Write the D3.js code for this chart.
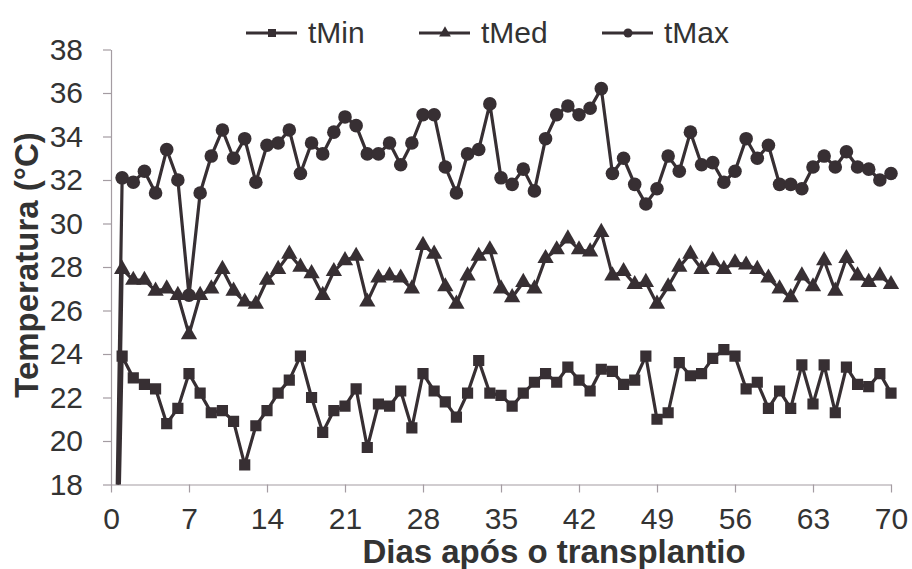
<!DOCTYPE html>
<html>
<head>
  <meta charset="utf8">
  <script src="https://d3js.org/d3.v7.min.js"></script>
  <style>
    body { margin: 0; background: #fff; }
    text { font-family: "Liberation Sans", Arial, sans-serif; fill: #333; }
    .axis path, .axis line { stroke: #a49ca2; stroke-width: 1.2; }
  </style>
</head>
<body>
  <svg id="chart" width="912" height="569"></svg>
  <script>
    // day 0 holds 0 in every series (the lines rise from the axis)
    var days = d3.range(0, 71);
    var tMin = [0,
      23.9, 22.9, 22.6, 22.4, 20.8, 21.5, 23.1, 22.2, 21.3, 21.4,
      20.9, 18.9, 20.7, 21.4, 22.2, 22.8, 23.9, 22.0, 20.4, 21.4,
      21.6, 22.4, 19.7, 21.7, 21.6, 22.3, 20.6, 23.1, 22.3, 21.8,
      21.1, 22.2, 23.7, 22.2, 22.1, 21.6, 22.2, 22.7, 23.1, 22.7,
      23.4, 22.8, 22.3, 23.3, 23.2, 22.6, 22.8, 23.9, 21.0, 21.3,
      23.6, 23.0, 23.1, 23.8, 24.2, 23.9, 22.4, 22.7, 21.5, 22.3,
      21.5, 23.5, 21.7, 23.5, 21.3, 23.4, 22.6, 22.5, 23.1, 22.2];
    var tMed = [0,
      27.9, 27.4, 27.4, 26.9, 27.0, 26.7, 24.9, 26.7, 27.0, 27.9,
      26.9, 26.4, 26.3, 27.4, 27.9, 28.6, 28.0, 27.7, 26.7, 27.8,
      28.3, 28.5, 26.4, 27.5, 27.6, 27.5, 27.0, 29.0, 28.6, 27.1,
      26.3, 27.6, 28.5, 28.8, 27.0, 26.6, 27.3, 27.0, 28.4, 28.8,
      29.3, 28.8, 28.7, 29.6, 27.6, 27.8, 27.2, 27.3, 26.3, 27.1,
      28.0, 28.6, 27.9, 28.3, 27.9, 28.2, 28.1, 27.9, 27.5, 27.0,
      26.6, 27.6, 27.1, 28.3, 26.9, 28.4, 27.6, 27.3, 27.6, 27.2];
    var tMax = [0,
      32.1, 31.9, 32.4, 31.4, 33.4, 32.0, 26.7, 31.4, 33.1, 34.3,
      33.0, 33.9, 31.9, 33.6, 33.7, 34.3, 32.3, 33.7, 33.2, 34.2,
      34.9, 34.5, 33.2, 33.2, 33.7, 32.7, 33.7, 35.0, 35.0, 32.6,
      31.4, 33.2, 33.4, 35.5, 32.1, 31.8, 32.5, 31.5, 33.9, 35.0,
      35.4, 35.0, 35.3, 36.2, 32.3, 33.0, 31.8, 30.9, 31.6, 33.1,
      32.4, 34.2, 32.7, 32.8, 31.9, 32.4, 33.9, 33.0, 33.6, 31.8,
      31.8, 31.6, 32.6, 33.1, 32.6, 33.3, 32.6, 32.5, 32.0, 32.3];
    var seriesNames = ['tMin', 'tMed', 'tMax'];
    var xTicks = [0, 7, 14, 21, 28, 35, 42, 49, 56, 63, 70];
    var yTicks = [18, 20, 22, 24, 26, 28, 30, 32, 34, 36, 38];

    var ink = '#372f33';
    var svg = d3.select('#chart');

    var x = d3.scaleLinear().domain([0, 70]).range([111, 891]);
    var y = d3.scaleLinear().domain([18, 38]).range([484.5, 49.5]);

    var symbols = {
      tMin: d3.symbolSquare,
      tMed: d3.symbolTriangle,
      tMax: d3.symbolCircle
    };
    var values = { tMin: tMin, tMed: tMed, tMax: tMax };

    // axes
    svg.append('g')
      .attr('class', 'axis')
      .attr('transform', 'translate(0,' + y(18) + ')')
      .call(d3.axisBottom(x).tickValues(xTicks).tickSizeInner(8).tickSizeOuter(0).tickPadding(15))
      .call((g) => g.selectAll('text').style('font-size', '30px').attr('fill', '#333'));

    svg.append('g')
      .attr('class', 'axis')
      .attr('transform', 'translate(' + x(0) + ',0)')
      .call(d3.axisLeft(y).tickValues(yTicks).tickSizeInner(8).tickSizeOuter(0).tickPadding(20))
      .call((g) => g.selectAll('text').style('font-size', '30px').attr('fill', '#333'));

    svg.append('text')
      .attr('x', 554)
      .attr('y', 563)
      .attr('text-anchor', 'middle')
      .style('font-size', '33px')
      .style('font-weight', 'bold')
      .attr('fill', '#2e2e2e')
      .text('Dias após o transplantio');

    svg.append('text')
      .attr('transform', 'translate(38,265) rotate(-90)')
      .attr('text-anchor', 'middle')
      .style('font-size', '33px')
      .style('font-weight', 'bold')
      .attr('fill', '#2e2e2e')
      .text('Temperatura (°C)');

    // plot area
    svg.append('clipPath')
      .attr('id', 'plot')
      .append('rect')
      .attr('x', x(0))
      .attr('y', y(38) - 10)
      .attr('width', x(70) - x(0) + 12)
      .attr('height', y(18) - y(38) + 10);

    var plot = svg.append('g').attr('clip-path', 'url(#plot)');

    var line = d3.line()
      .x((d) => x(d.day))
      .y((d) => y(d.value));

    seriesNames.forEach(function (name) {
      var pts = days.map((d, i) => ({ day: d, value: values[name][i] }));
      plot.append('path')
        .datum(pts)
        .attr('fill', 'none')
        .attr('stroke', ink)
        .attr('stroke-width', 3.2)
        .attr('stroke-linejoin', 'round')
        .attr('d', line);

      var size = name === 'tMed' ? 115 : name === 'tMin' ? 125 : 145;
      plot.selectAll('path.m-' + name)
        .data(pts.filter((d) => d.day > 0))
        .enter()
        .append('path')
        .attr('class', 'm-' + name)
        .attr('transform', (d) => 'translate(' + x(d.day) + ',' + y(d.value) + ')')
        .attr('d', d3.symbol().type(symbols[name]).size(size))
        .attr('fill', ink);
    });

    // legend
    var legendX = [246, 419, 602];
    var legend = svg.selectAll('g.legend')
      .data(seriesNames)
      .enter()
      .append('g')
      .attr('class', 'legend')
      .attr('transform', (d, i) => 'translate(' + legendX[i] + ',33)');

    legend.append('line')
      .attr('x1', 0).attr('x2', 51)
      .attr('stroke', ink)
      .attr('stroke-width', 3);

    legend.append('path')
      .attr('transform', 'translate(26,0)')
      .attr('d', (d) => d3.symbol().type(symbols[d]).size(d === 'tMed' ? 60 : 65)())
      .attr('fill', ink);

    legend.append('text')
      .attr('x', 62)
      .attr('y', 10)
      .style('font-size', '30px')
      .attr('fill', '#333')
      .text((d) => d);
  </script>
</body>
</html>
